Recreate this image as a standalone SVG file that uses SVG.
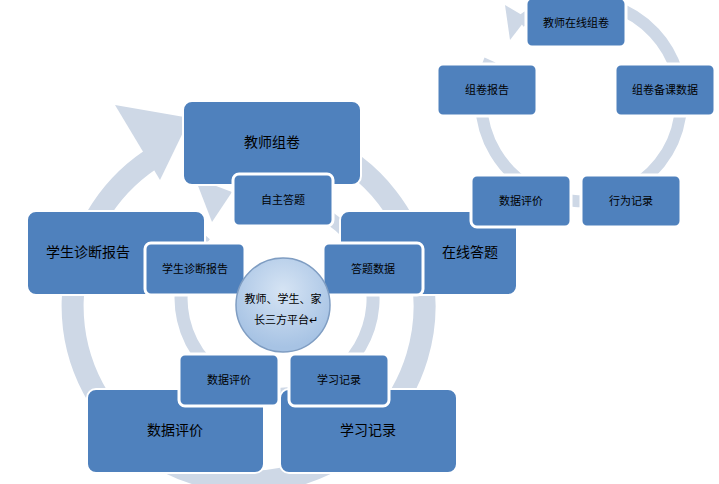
<svg xmlns="http://www.w3.org/2000/svg" width="719" height="484" viewBox="0 0 719 484">
<defs>
<style>
.ring{fill:none;stroke:#CED8E6}
.arr{fill:#CED8E6}
.b rect{fill:#4F81BD;stroke:#fff;stroke-width:2}
.s rect{fill:#4F81BD;stroke:#fff;stroke-width:3}
text{font-family:"Noto Sans CJK SC","Liberation Sans",sans-serif;fill:#000;text-anchor:middle;dominant-baseline:middle}
.L{font-size:14px}
.S{font-size:11px}
</style>
<radialGradient id="g" cx="0.5" cy="0.35" r="0.6"><stop offset="0" stop-color="#D6E4F4"/><stop offset="1" stop-color="#A7C3E4"/></radialGradient>
</defs>
<rect width="719" height="484" fill="#fff"/>
<g id="connectors">
<path class="ring" stroke-width="22" d="M150 160 A176 176 0 1 0 240 130"/>
<polygon class="arr" points="115,105 190,118 160,180"/>
<path class="ring" stroke-width="13" d="M205 235 A96 96 0 1 0 255 205"/>
<polygon class="arr" points="195,178 232,192 212,222"/>
<path class="ring" stroke-width="12" d="M490 60 A100 100 0 1 0 520 22"/>
<polygon class="arr" points="505,5 527,18 510,40"/>
</g>
<g id="n1" class="b"><rect x="183" y="101" width="178" height="84" rx="9"/><text class="L" x="272" y="143">教师组卷</text></g>
<g id="n2" class="b"><rect x="27" y="211" width="178" height="84" rx="9"/><text class="L" x="88" y="253">学生诊断报告</text></g>
<g id="n3" class="b"><rect x="340" y="211" width="177" height="84" rx="9"/><text class="L" x="470" y="253">在线答题</text></g>
<g id="n4" class="b"><rect x="87" y="389" width="177" height="84" rx="9"/><text class="L" x="175" y="431">数据评价</text></g>
<g id="n5" class="b"><rect x="280" y="389" width="177" height="84" rx="9"/><text class="L" x="368" y="431">学习记录</text></g>
<g id="s1" class="s"><rect x="233" y="174" width="100" height="52" rx="6"/><text class="S" x="283" y="201">自主答题</text></g>
<g id="s2" class="s"><rect x="145" y="243" width="100" height="52" rx="6"/><text class="S" x="195" y="270">学生诊断报告</text></g>
<g id="s3" class="s"><rect x="323" y="243" width="100" height="52" rx="6"/><text class="S" x="373" y="270">答题数据</text></g>
<g id="s4" class="s"><rect x="179" y="354" width="100" height="52" rx="6"/><text class="S" x="229" y="381">数据评价</text></g>
<g id="s5" class="s"><rect x="289" y="354" width="100" height="52" rx="6"/><text class="S" x="339" y="381">学习记录</text></g>
<g id="c"><circle cx="283" cy="305" r="47" fill="url(#g)" stroke="#7F9DC2" stroke-width="1.5"/><text class="S" x="283" y="300">教师、学生、家</text><text class="S" x="286" y="321">长三方平台↵</text></g>
<g id="r1" class="s"><rect x="526" y="-2" width="100" height="49" rx="6"/><text class="S" x="576" y="24">教师在线组卷</text></g>
<g id="r2" class="s"><rect x="437" y="64" width="100" height="52" rx="6"/><text class="S" x="487" y="91">组卷报告</text></g>
<g id="r3" class="s"><rect x="615" y="64" width="100" height="52" rx="6"/><text class="S" x="665" y="91">组卷备课数据</text></g>
<g id="r4" class="s"><rect x="471" y="175" width="100" height="52" rx="6"/><text class="S" x="521" y="202">数据评价</text></g>
<g id="r5" class="s"><rect x="581" y="175" width="100" height="52" rx="6"/><text class="S" x="631" y="202">行为记录</text></g>
</svg>
